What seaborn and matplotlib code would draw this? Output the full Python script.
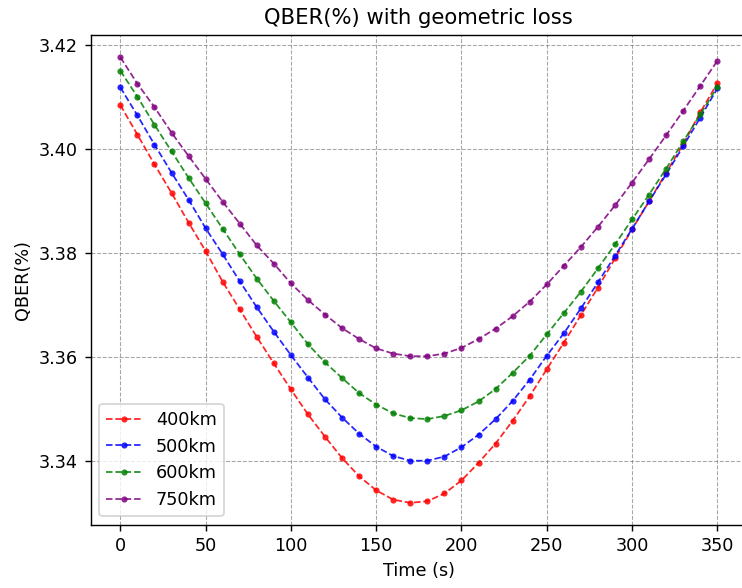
import pandas as pd
import numpy as np
import matplotlib
matplotlib.use("Agg")
import matplotlib.pyplot as plt
import seaborn as sns

# time axis (s)
time_s = list(range(0, 360, 10))

# QBER(%) per satellite altitude
qber_400 = [3.4085, 3.4028, 3.3971, 3.3916, 3.3859, 3.3804, 3.3745, 3.3692, 3.3639, 3.3588,
            3.3538, 3.3490, 3.3447, 3.3406, 3.3371, 3.3344, 3.3326, 3.3320, 3.3323, 3.3338,
            3.3363, 3.3397, 3.3434, 3.3478, 3.3525, 3.3577, 3.3628, 3.3681, 3.3734, 3.3790,
            3.3846, 3.3900, 3.3955, 3.4010, 3.4071, 3.4127]
qber_500 = [3.4119, 3.4065, 3.4009, 3.3955, 3.3903, 3.3848, 3.3798, 3.3746, 3.3696, 3.3649,
            3.3604, 3.3561, 3.3519, 3.3484, 3.3453, 3.3428, 3.3410, 3.3401, 3.3401, 3.3409,
            3.3427, 3.3451, 3.3481, 3.3516, 3.3557, 3.3603, 3.3646, 3.3694, 3.3744, 3.3795,
            3.3847, 3.3900, 3.3952, 3.4006, 3.4061, 3.4117]
qber_600 = [3.4151, 3.4101, 3.4047, 3.3996, 3.3945, 3.3896, 3.3847, 3.3798, 3.3751, 3.3708,
            3.3667, 3.3625, 3.3590, 3.3560, 3.3531, 3.3509, 3.3492, 3.3483, 3.3481, 3.3487,
            3.3498, 3.3515, 3.3539, 3.3570, 3.3603, 3.3644, 3.3685, 3.3726, 3.3771, 3.3817,
            3.3865, 3.3913, 3.3963, 3.4015, 3.4067, 3.4120]
qber_750 = [3.4177, 3.4126, 3.4081, 3.4032, 3.3987, 3.3943, 3.3899, 3.3857, 3.3815, 3.3780,
            3.3742, 3.3710, 3.3682, 3.3656, 3.3635, 3.3617, 3.3607, 3.3602, 3.3602, 3.3607,
            3.3618, 3.3635, 3.3655, 3.3679, 3.3707, 3.3740, 3.3776, 3.3812, 3.3851, 3.3892,
            3.3936, 3.3981, 3.4027, 3.4074, 3.4122, 3.4170]

labels = ['400km', '500km', '600km', '750km']
colors = ['red', 'blue', 'green', 'purple']
series = [qber_400, qber_500, qber_600, qber_750]

# 742x588 px at 127 dpi
fig = plt.figure(figsize=(742 / 127, 588 / 127), dpi=127)
ax = fig.add_axes([0.122, 0.107, 0.885, 0.8335])

for lab, col, vals in zip(labels, colors, series):
    df = pd.DataFrame({'time': time_s, 'qber': vals})
    sns.lineplot(data=df, x='time', y='qber', ax=ax, color=col, label=lab,
                 marker='o', markersize=3.5, markeredgewidth=0, linestyle='--',
                 linewidth=1, alpha=0.85)

ax.set_title('QBER(%) with geometric loss')
ax.set_xlabel('Time (s)')
ax.set_ylabel('QBER(%)')
ax.set_yticks([3.34, 3.36, 3.38, 3.40, 3.42])
ax.grid(True, linestyle='--', color='gray', alpha=0.7, linewidth=0.6)
ax.legend(loc='lower left')

fig.savefig('out.png', dpi=127)
